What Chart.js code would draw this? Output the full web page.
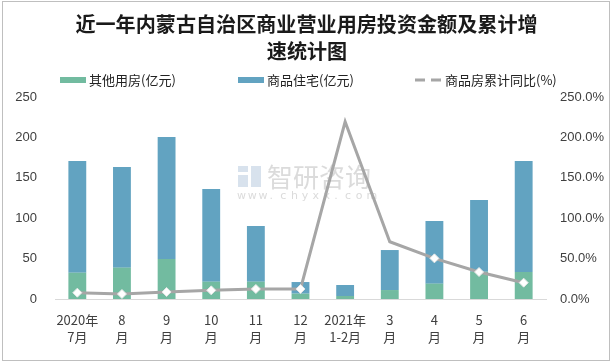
<!DOCTYPE html>
<html>
<head>
<meta charset="utf-8">
<script src="https://cdn.jsdelivr.net/npm/chart.js@4.4.1/dist/chart.umd.min.js"></script>
<style>
  html, body { margin: 0; padding: 0; background: #fff; }
  #wrap { width: 613px; height: 364px; }
</style>
</head>
<body>
<div id="wrap"><canvas id="chart" width="613" height="364"></canvas></div>
<script>
// data
const categories = [
  ['2020年', '7月'], ['8', '月'], ['9', '月'], ['10', '月'], ['11', '月'], ['12', '月'],
  ['2021年', '1-2月'], ['3', '月'], ['4', '月'], ['5', '月'], ['6', '月']
];
const otherValues = [32.5, 38.8, 49.5, 21.4, 21.4, 6.6, 3.7, 11.1, 19.0, 33.8, 33.4];
const residentialValues = [138.2, 124.5, 150.9, 114.6, 68.9, 14.4, 13.6, 49.5, 77.5, 88.6, 137.3];
const growthValues = [7.8, 6.2, 8.7, 10.7, 12.4, 12.4, 219.3, 70.9, 50.3, 33.4, 20.2];
const leftTicks = [0, 50, 100, 150, 200, 250];
const rightTicks = [0, 50, 100, 150, 200, 250];

const titleLines = ['近一年内蒙古自治区商业营业用房投资金额及累计增', '速统计图'];
const seriesNames = ['其他用房(亿元)', '商品住宅(亿元)', '商品房累计同比(%)'];

const GREEN = '#72BBA0';
const BLUE = '#62A3C1';
const GREY = '#A6A6A6';
const TEXT = '#404040';
const CJK = '"Noto Sans CJK SC", "Liberation Sans", sans-serif';

// markers are missing on two points in the original
const markerRadius = growthValues.map((v, i) => (i === 6 || i === 7) ? 0 : 4.5);

// title, legend, watermark and frame
const decor = {
  id: 'decor',
  beforeDatasetsDraw(chart) {
    const ctx = chart.ctx;
    ctx.save();
    ctx.fillStyle = 'rgba(200,214,230,0.7)';
    ctx.fillRect(238, 166, 10, 6);
    ctx.fillRect(238, 175, 10, 12);
    ctx.fillRect(251, 166, 10, 21);
    ctx.fillStyle = 'rgba(195,195,195,0.6)';
    ctx.font = '26px ' + CJK;
    ctx.textBaseline = 'middle';
    ctx.fillText('智研咨询', 267, 177);
    ctx.font = '11px "DejaVu Sans", sans-serif';
    const url = 'www.chyxx.com';
    for (let i = 0; i < url.length; i++) ctx.fillText(url[i], 237 + i * 10.8, 196);
    ctx.restore();
  },
  afterDraw(chart) {
    const ctx = chart.ctx;
    ctx.save();
    ctx.strokeStyle = '#BFBFBF';
    ctx.lineWidth = 1;
    ctx.strokeRect(2.5, 1.5, 607, 359);

    // title: fit first line to the original width
    ctx.font = 'bold 20px ' + CJK;
    const size = 20 * 463 / ctx.measureText(titleLines[0]).width;
    ctx.font = 'bold ' + size.toFixed(1) + 'px ' + CJK;
    ctx.fillStyle = '#1a1a1a';
    ctx.textAlign = 'center';
    ctx.textBaseline = 'middle';
    ctx.fillText(titleLines[0], 306.5, 24);
    ctx.fillText(titleLines[1], 307, 51);

    const ds = chart.data.datasets;
    const legendY = 80;
    ctx.font = '13px ' + CJK;
    ctx.textAlign = 'left';
    // bar items
    [[ds[1], 60], [ds[2], 238]].forEach(([d, x]) => {
      ctx.fillStyle = d.backgroundColor;
      ctx.fillRect(x, legendY - 3, 26, 6);
      ctx.fillStyle = '#222';
      ctx.fillText(d.label, x + 29, legendY);
    });
    // line item
    ctx.strokeStyle = ds[0].borderColor;
    ctx.lineWidth = 3;
    ctx.setLineDash([10, 6]);
    ctx.beginPath();
    ctx.moveTo(415, legendY);
    ctx.lineTo(443, legendY);
    ctx.stroke();
    ctx.setLineDash([]);
    ctx.fillStyle = '#222';
    ctx.fillText(ds[0].label, 445, legendY);
    ctx.restore();
  }
};

new Chart(document.getElementById('chart'), {
  data: {
    labels: categories,
    datasets: [
      {
        type: 'line',
        label: seriesNames[2],
        data: growthValues,
        yAxisID: 'y1',
        borderColor: GREY,
        borderWidth: 3,
        tension: 0,
        pointStyle: 'rectRot',
        pointRadius: markerRadius,
        pointBackgroundColor: '#ffffff',
        pointBorderColor: '#e6e6e6',
        pointBorderWidth: 1,
        order: 0
      },
      {
        type: 'bar',
        label: seriesNames[0],
        data: otherValues,
        backgroundColor: GREEN,
        stack: 's',
        order: 1
      },
      {
        type: 'bar',
        label: seriesNames[1],
        data: residentialValues,
        backgroundColor: BLUE,
        stack: 's',
        order: 1
      }
    ]
  },
  options: {
    responsive: false,
    animation: false,
    layout: { padding: { top: 97, left: 5, right: 7, bottom: 15 } },
    datasets: { bar: { categoryPercentage: 1, barPercentage: 0.4 } },
    plugins: {
      legend: { display: false },
      title: { display: false },
      tooltip: { enabled: false }
    },
    scales: {
      x: {
        stacked: true,
        grid: { display: false, drawTicks: false },
        border: { display: true, color: '#D9D9D9', width: 1 },
        ticks: {
          color: TEXT,
          font: { size: 13, family: CJK, lineHeight: 1.35 },
          padding: 12,
          maxRotation: 0,
          autoSkip: false
        },
        afterFit: s => { s.height = 50; }
      },
      y: {
        stacked: true,
        min: 0,
        max: 250,
        afterBuildTicks: s => { s.ticks = leftTicks.map(v => ({ value: v })); },
        grid: { display: false, drawTicks: false },
        border: { display: false },
        ticks: {
          color: TEXT,
          font: { size: 13, family: '"Liberation Sans", sans-serif' },
          padding: 18
        },
        afterFit: s => { s.width = 50; }
      },
      y1: {
        position: 'right',
        min: 0,
        max: 250,
        afterBuildTicks: s => { s.ticks = rightTicks.map(v => ({ value: v })); },
        grid: { display: false, drawTicks: false },
        border: { display: false },
        ticks: {
          color: TEXT,
          font: { size: 13, family: '"Liberation Sans", sans-serif' },
          padding: 14,
          callback: v => v.toFixed(1) + '%'
        },
        afterFit: s => { s.width = 60; }
      }
    }
  },
  plugins: [decor]
});
</script>
</body>
</html>
